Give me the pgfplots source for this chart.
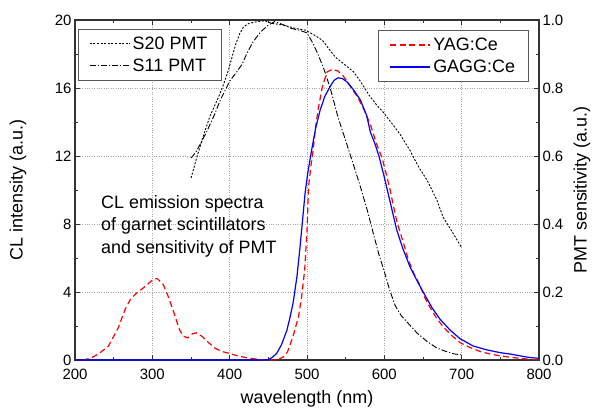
\documentclass[border=0pt]{standalone}
\usepackage{fontspec}
\setmainfont{Liberation Sans}
\usepackage{pgfplots}
\pgfplotsset{compat=1.18}
\definecolor{axgray}{HTML}{333333}
\pgfplotsset{
  base/.style={
    scale only axis, width=464bp, height=340bp,
    xmin=200, xmax=800,
    axis line style={line width=1.3pt, color=axgray},
    tick style={color=axgray, line width=0.8pt},
    tick align=inside,
    major tick length=5bp, minor tick length=3bp,
    ticklabel style={font=\fontsize{15}{18}\selectfont},
    xticklabel style={yshift=-6bp},
    /pgf/number format/assume math mode=true,
    label style={font=\fontsize{18}{22}\selectfont},
    legend style={draw=black!65, line width=0.6pt, font=\fontsize{18}{21}\selectfont,
      legend cell align=left, inner xsep=11bp, inner ysep=5bp, row sep=3bp,
      nodes={inner sep=2.5bp}},
    legend image code/.code={\draw[##1] (0bp,0bp) -- (40bp,0bp);},
  }
}
\begin{document}
\begin{tikzpicture}
\begin{axis}[base,
  ymin=0, ymax=20,
  xtick={200,300,...,800}, minor x tick num=1,
  ytick={0,4,...,20}, minor y tick num=1,
  ytick pos=left,
  grid=major, grid style={dotted, gray!70, line width=0.5pt},
  xlabel={wavelength (nm)}, ylabel={CL intensity (a.u.)},
  xlabel style={at={(axis description cs:0.5,-0.115)}, anchor=center},
  ylabel style={at={(axis description cs:-0.1228,0.5)}, anchor=center},
  legend style={at={(0.978,0.97)}, anchor=north east},
]
\coordinate (bbsw) at (rel axis cs:0,0);
\coordinate (bbne) at (rel axis cs:1,1);
\addplot[draw=red, line width=1.2bp, dash pattern=on 6bp off 3.5bp] coordinates {
(210,0) (220,0.1) (230,0.35) (243,0.8) (256,1.9) (265,3.0) (272,3.6) (280,3.95)
(290,4.3) (300,4.7) (306,4.8) (314,4.45) (320,3.8) (327,2.9) (335,1.8) (340,1.4)
(346,1.3) (352,1.55) (357,1.6) (364,1.4) (372,1.05) (381,0.7) (390,0.5) (400,0.38)
(412,0.22) (424,0.12) (440,0.02) (455,0) (463,0.03) (470,0.2) (475,0.5) (482,1.4)
(489,2.55) (493,3.7) (497,5.3) (500,7.6) (502,10.2) (505,11.4) (508,12.35) (511,13.7)
(515,14.9) (520,16.1) (526,16.95) (533,17.1) (540,17.0) (547,16.7) (556,16.1)
(565,15.5) (574,14.7) (582,13.85) (590,12.7) (597,11.9) (601,11.2) (607,10.1)
(612,9.0) (617,8.0) (624,7.0) (631,5.9) (638,5.1) (646,4.4) (652,3.7) (659,3.1)
(667,2.5) (676,1.95) (687,1.45) (698,1.02) (710,0.75) (724,0.5) (737,0.35)
(750,0.24) (763,0.16) (776,0.1) (789,0.03) (800,0.0)
};
\addlegendentry{YAG:Ce}
\addplot[draw=blue, line width=1.2bp] coordinates {
(200,0) (440,0) (450,0.02) (455,0.15) (461,0.4) (467,0.9) (474,1.75) (478,2.5)
(482,3.35) (487,4.9) (491,6.65) (494,8.1) (497.5,9.8) (501,11.0) (506,12.35)
(511,13.6) (517,14.7) (523,15.5) (530,16.1) (535,16.45) (540,16.6) (546,16.55)
(552,16.35) (560,15.9) (569,15.3) (577,14.4) (582,13.4) (588,12.7) (593,12.0)
(600,10.75) (608,9.2) (616,7.65) (624,6.55) (633,5.5) (643,4.6) (652,3.85)
(662,3.05) (672,2.4) (685,1.76) (698,1.25) (715,0.82) (733,0.59) (750,0.43)
(763,0.35) (776,0.24) (789,0.14) (800,0.1)
};
\addlegendentry{GAGG:Ce}
\node[anchor=north west, inner sep=0pt, align=left,
  font=\fontsize{18}{22.5}\selectfont] at (axis cs:233.6,9.7)
  {CL emission spectra\\of garnet scintillators\\and sensitivity of PMT};
\end{axis}
\begin{axis}[base,
  ymin=0, ymax=1,
  axis x line=none, axis y line*=right,
  ytick={0,0.2,...,1.0}, minor y tick num=1,
  yticklabel style={/pgf/number format/.cd, fixed, fixed zerofill, precision=1},
  ylabel={PMT sensitivity (a.u.)},
  ylabel style={at={(axis description cs:1.0927,0.5)}, anchor=center},
  legend style={at={(0.0065,0.9735)}, anchor=north west},
]
\addplot[draw=black, line width=0.9bp, dash pattern=on 2bp off 1.6bp] coordinates {
(350,0.535) (358,0.60) (366,0.66) (375,0.72) (385,0.77) (392,0.81) (398,0.85)
(403,0.89) (408,0.93) (413,0.96) (418,0.98) (425,0.99) (435,0.995) (445,0.998)
(455,0.99) (470,0.985) (485,0.975) (498,0.97) (510,0.955) (520,0.94) (530,0.91)
(537,0.89) (548,0.87) (560,0.848) (569,0.82) (580,0.78) (590,0.75) (600,0.725)
(610,0.695) (620,0.665) (633,0.617) (645,0.565) (655,0.53) (668,0.47) (676,0.42)
(687,0.38) (700,0.33)
};
\addlegendentry{S20 PMT}
\addplot[draw=black, line width=0.9bp, dash pattern=on 6bp off 2bp on 1.2bp off 2bp] coordinates {
(350,0.594) (356,0.61) (362,0.635) (370,0.67) (380,0.72) (388,0.765) (400,0.82)
(410,0.85) (416,0.87) (423,0.905) (430,0.935) (440,0.965) (450,0.985) (458,0.995)
(465,0.99) (480,0.975) (490,0.97) (500,0.962) (508,0.93) (515,0.895) (522,0.855)
(530,0.80) (540,0.715) (550,0.645) (560,0.575) (569,0.51) (578,0.44) (586,0.37)
(593,0.31) (600,0.26) (607,0.205) (614,0.16) (622,0.13) (632,0.105) (642,0.08)
(655,0.055) (668,0.035) (680,0.025) (690,0.018) (700,0.015)
};
\addlegendentry{S11 PMT}
\end{axis}
\pgfresetboundingbox
\path ([shift={(-75bp,-52bp)}]bbsw) rectangle ([shift={(54bp,20bp)}]bbne);
\end{tikzpicture}
\end{document}
